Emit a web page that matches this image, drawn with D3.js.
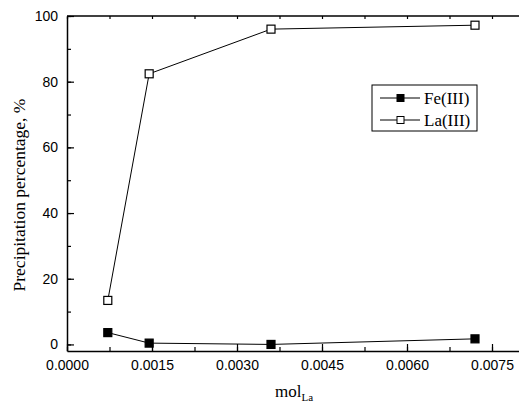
<!DOCTYPE html>
<html>
<head>
<meta charset="utf-8">
<style>
body { margin: 0; background: #fff; }
.tick text { font: 14px "Liberation Sans", Arial, sans-serif; fill: #000; }
.axis path, .axis line { stroke: #000; }
text.lab { font-family: "Liberation Serif", "Times New Roman", serif; fill: #000; }
</style>
<script src="https://cdn.jsdelivr.net/npm/d3@7"></script>
</head>
<body>
<script>

var molLa = [0.00072, 0.00145, 0.0036, 0.0072];
var fe = [3.6, 0.4, 0.0, 1.7];
var la = [13.4, 82.4, 96.0, 97.2];
var xTicks = [0, 0.0015, 0.003, 0.0045, 0.006, 0.0075];
var yTicks = [0, 20, 40, 60, 80, 100];

var width = 519, height = 404;
var padLeft = 67, padTop = 16, padBottom = 351;

var x = d3.scaleLinear().domain([0, 0.0081]).range([padLeft, padLeft + 0.0081 / 0.0075 * 425]);
var y = d3.scaleLinear().domain([-2, 100]).range([padBottom, padTop]);

var svg = d3.select("body").append("svg")
    .attr("width", width)
    .attr("height", height);

// minor ticks
var xMinor = d3.range(0, 0.0082, 0.00075);
var yMinor = d3.range(0, 101, 10);

svg.append("g").attr("class", "axis")
    .attr("transform", "translate(0," + padBottom + ")")
    .call(d3.axisBottom(x).tickValues(xMinor).tickSize(-4).tickFormat(""))
    .call(function(g) { g.select(".domain").remove(); });

svg.append("g").attr("class", "axis")
    .attr("transform", "translate(0," + padTop + ")")
    .call(d3.axisTop(x).tickValues(xMinor).tickSize(-3).tickFormat(""))
    .call(function(g) { g.select(".domain").remove(); });

svg.append("g").attr("class", "axis")
    .attr("transform", "translate(" + padLeft + ",0)")
    .call(d3.axisLeft(y).tickValues(yMinor).tickSize(-4).tickFormat(""))
    .call(function(g) { g.select(".domain").remove(); });

var xAxis = svg.append("g").attr("class", "axis")
    .attr("transform", "translate(0," + padBottom + ")")
    .call(d3.axisBottom(x).tickValues(xTicks).tickSizeInner(-7).tickSizeOuter(0).tickPadding(9)
        .tickFormat(d3.format(".4f")));

var yAxis = svg.append("g").attr("class", "axis")
    .attr("transform", "translate(" + padLeft + ",0)")
    .call(d3.axisLeft(y).tickValues(yTicks).tickSizeInner(-7).tickSizeOuter(0).tickPadding(9));

svg.selectAll(".axis .domain").attr("stroke-width", 1.5);
svg.selectAll(".axis line").attr("stroke-width", 1.2);

// top frame line
svg.append("line")
    .attr("x1", padLeft).attr("x2", width)
    .attr("y1", padTop).attr("y2", padTop)
    .attr("stroke", "#000").attr("stroke-width", 1.5);

var line = d3.line()
    .x(function(d) { return x(d[0]); })
    .y(function(d) { return y(d[1]); });

var series = [
  {name: "Fe(III)", values: d3.zip(molLa, fe), fill: "#000"},
  {name: "La(III)", values: d3.zip(molLa, la), fill: "#fff"}
];

series.forEach(function(s) {
  svg.append("path")
      .attr("d", line(s.values))
      .attr("fill", "none")
      .attr("stroke", "#000")
      .attr("stroke-width", 1);
  svg.selectAll(null)
      .data(s.values)
      .enter().append("rect")
      .attr("x", function(d) { return x(d[0]) - 4; })
      .attr("y", function(d) { return y(d[1]) - 4; })
      .attr("width", 8)
      .attr("height", 8)
      .attr("fill", s.fill)
      .attr("stroke", "#000")
      .attr("stroke-width", 1.2);
});

// legend
var lg = svg.append("g").attr("transform", "translate(372,85)");
lg.append("rect")
    .attr("width", 105).attr("height", 46)
    .attr("fill", "#fff").attr("stroke", "#000").attr("stroke-width", 1);
series.forEach(function(s, i) {
  var cy = 13 + i * 22;
  lg.append("line")
      .attr("x1", 8).attr("x2", 48)
      .attr("y1", cy).attr("y2", cy)
      .attr("stroke", "#000");
  lg.append("rect")
      .attr("x", 25).attr("y", cy - 3.5)
      .attr("width", 7).attr("height", 7)
      .attr("fill", s.fill).attr("stroke", "#000");
  lg.append("text")
      .attr("class", "lab")
      .attr("x", 52).attr("y", cy + 6)
      .style("font-size", "17px")
      .text(s.name);
});

// axis titles
svg.append("text")
    .attr("class", "lab")
    .attr("transform", "translate(25,195) rotate(-90)")
    .attr("text-anchor", "middle")
    .style("font-size", "17.5px")
    .text("Precipitation percentage, %");

var xt = svg.append("text")
    .attr("class", "lab")
    .attr("x", 275).attr("y", 397)
    .style("font-size", "17px");
xt.append("tspan").text("mol");
xt.append("tspan").attr("dy", 4).style("font-size", "11px").text("La");

</script>
</body>
</html>
